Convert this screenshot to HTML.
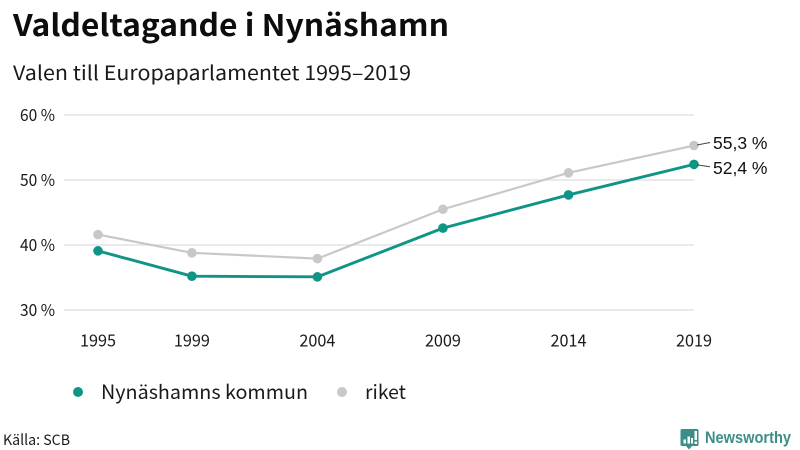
<!DOCTYPE html>
<html lang="sv">
<head>
<meta charset="utf-8">
<title>Valdeltagande i Nynäshamn</title>
<style>
html,body{margin:0;padding:0;background:#fff;width:800px;height:450px;overflow:hidden}
svg{display:block}
text{font-family:"Noto Sans CJK SC","DejaVu Sans",sans-serif;fill:#1a1a1a}
text.end-label{font-family:"Liberation Sans",sans-serif;fill:#111}
</style>
</head>
<body>
<svg id="chart" width="800" height="450" viewBox="0 0 800 450" xmlns="http://www.w3.org/2000/svg">
  <text x="13" y="36" font-size="30" font-weight="700" style="fill:#0d0d0d" textLength="436" lengthAdjust="spacingAndGlyphs">Valdeltagande i Nynäshamn</text>
  <text x="13" y="80" font-size="20" textLength="398" lengthAdjust="spacingAndGlyphs">Valen till Europaparlamentet 1995–2019</text>
  <g id="grid"></g>
  <g id="x-axis"></g>
  <g id="series"></g>
  <g id="labels"></g>
  <g>
    <circle cx="78" cy="392" r="5" fill="#0f9585"></circle>
    <text x="101" y="399" font-size="19.500" textLength="207" lengthAdjust="spacingAndGlyphs">Nynäshamns kommun</text>
    <circle cx="342" cy="392" r="5" fill="#c8c8c8"></circle>
    <text x="365" y="399" font-size="19.500" textLength="41" lengthAdjust="spacingAndGlyphs">riket</text>
  </g>
  <text x="3" y="445" font-size="14.500" textLength="67" lengthAdjust="spacingAndGlyphs">Källa: SCB</text>
  <g>
    <path d="M682 429h15a1.500 1.500 0 0 1 1.500 1.500v14a1.500 1.500 0 0 1-1.500 1.500h-5l-3 3.500-3-3.500h-4a1.500 1.500 0 0 1-1.500-1.500v-14a1.500 1.500 0 0 1 1.500-1.500z" fill="#3c8f88"></path>
    <rect x="683.500" y="439.500" width="2.500" height="4" fill="#fff"></rect>
    <rect x="687.500" y="436.500" width="2.500" height="7" fill="#fff"></rect>
    <rect x="691" y="438" width="2" height="5.500" fill="#fff"></rect>
    <rect x="694.500" y="431" width="2.500" height="9" fill="#fff"></rect>
    <rect x="694.500" y="441.500" width="2.500" height="2.500" fill="#fff"></rect>
    <text x="705" y="443" font-size="16.500" font-weight="700" style="font-family:'Liberation Sans',sans-serif;fill:#3c8f88" textLength="86" lengthAdjust="spacingAndGlyphs">Newsworthy</text>
  </g>
</svg>
<script>
const categories = ['1995', '1999', '2004', '2009', '2014', '2019'];
const electionDates = [1995.71, 1999.45, 2004.45, 2009.45, 2014.45, 2019.45];
const nynashamnValues = [39.1, 35.2, 35.1, 42.6, 47.7, 52.4];
const riketValues = [41.6, 38.8, 37.9, 45.5, 51.1, 55.3];
const yTicks = [30, 40, 50, 60];

const NS = 'http://www.w3.org/2000/svg';
const xScale = function (d) {
  const first = electionDates[0];
  const last = electionDates[electionDates.length - 1];
  return 98 + (d - first) / (last - first) * 596;
};
const yScale = function (v) {
  return 310 - (v - 30) * 6.5;
};
const make = function (tag, parent, attrs, text) {
  const el = document.createElementNS(NS, tag);
  Object.keys(attrs).forEach(function (k) { el.setAttribute(k, attrs[k]); });
  if (text !== undefined) el.textContent = text;
  parent.appendChild(el);
  return el;
};

const grid = document.getElementById('grid');
yTicks.forEach(function (t) {
  const line = make('line', grid, { x1: 64, x2: 694, y1: yScale(t), y2: yScale(t), stroke: '#e4e4e8', 'stroke-width': 1.6 });
  
  
  const label = make('text', grid, { x: 55, y: yScale(t) + 6, 'font-size': 16.5, 'text-anchor': 'end', textLength: 35, lengthAdjust: 'spacingAndGlyphs' }, t + ' %');
  
  
});

const xAxis = document.getElementById('x-axis');
categories.forEach(function (c, i) {
  const label = make('text', xAxis, { x: xScale(electionDates[i]), y: 346.5, 'font-size': 16.5, 'text-anchor': 'middle', textLength: 36, lengthAdjust: 'spacingAndGlyphs' }, c);
  
  
});

const seriesGroup = document.getElementById('series');
const drawSeries = function (values, color, width, name) {
  const pts = values.map(function (v, i) { return xScale(electionDates[i]) + ',' + yScale(v); }).join(' ');
  const line = make('polyline', seriesGroup, { points: pts, fill: 'none', stroke: color, 'stroke-width': width, 'stroke-linejoin': 'round' });
  
  
  values.forEach(function (v, i) {
    const dot = make('circle', seriesGroup, { cx: xScale(electionDates[i]), cy: yScale(v), r: 4.8, fill: color });
    
    
  });
};
drawSeries(riketValues, '#c8c8c8', 2.2, 'riket');
drawSeries(nynashamnValues, '#0f9585', 2.9, 'nynashamn');

const labels = document.getElementById('labels');
const drawEndLabel = function (values, name, offset, textDy) {
  const v = values[values.length - 1];
  const x = xScale(electionDates[electionDates.length - 1]);
  const y = yScale(v);
  const connector = make('line', labels, { x1: x + 3, y1: y + (offset > 0 ? 0.5 : -0.5), x2: x + 16, y2: y + offset, stroke: '#444', 'stroke-width': 1 });
  
  
  const label = make('text', labels, { class: 'end-label', x: x + 19, y: y + textDy, 'font-size': 17.5 }, String(v).replace('.', ',') + ' %');
  
  
};
drawEndLabel(riketValues, 'riket', -3, 3.5);
drawEndLabel(nynashamnValues, 'nynashamn', 2.3, 9.6);
</script>
</body>
</html>
